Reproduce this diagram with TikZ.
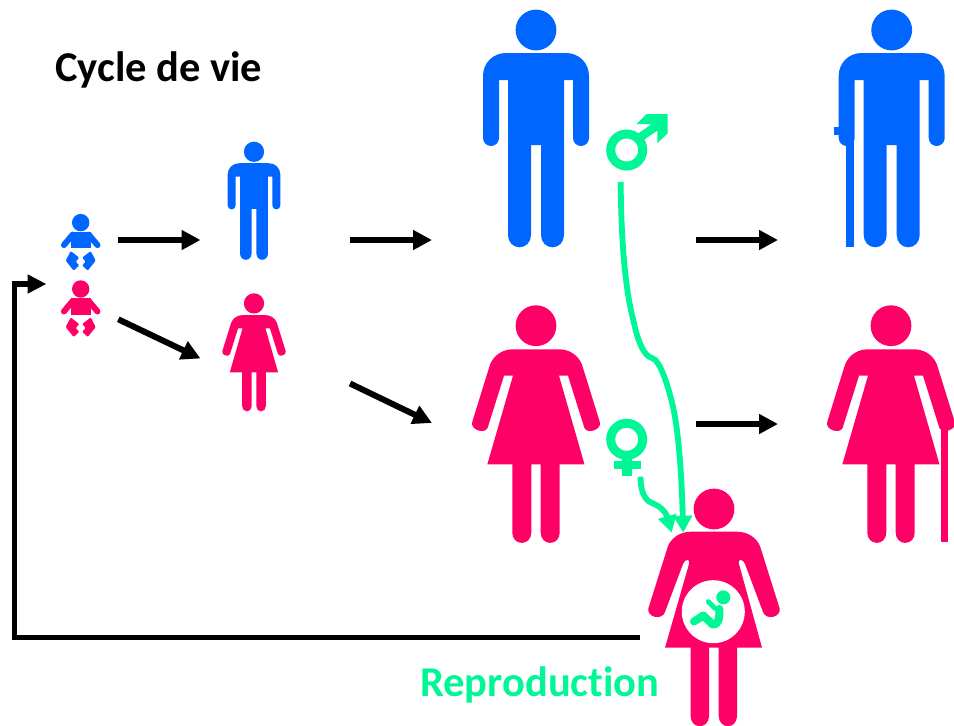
\documentclass[tikz,border=0pt]{standalone}
\usepackage{fontspec}
\setmainfont{Carlito}[Ligatures=NoCommon]
\usetikzlibrary{arrows.meta}
\definecolor{mblue}{HTML}{0066FF}
\definecolor{fpink}{HTML}{FF0066}
\definecolor{sgreen}{HTML}{00F796}
\tikzset{
  flow/.style={draw=black,line width=6pt,-{Triangle[length=19pt,width=19pt]}},
  elbow/.style={draw=black,line width=5.5pt,line join=miter,-{Triangle[length=19pt,width=18pt]}},
  gene/.style={draw=sgreen,line width=5.8pt,-{Triangle[length=17pt,width=18pt]}},
  lab/.style={font=\bfseries\fontsize{42.5}{42.5}\selectfont,inner sep=0pt,anchor=west},
  pics/manbody/.style={code={
    \fill[mblue] (0,0) circle[radius=20.4];
    \fill[mblue] (-37,50) -- (-37,108) .. controls (-37,112.4) and (-40.6,116) .. (-45,116)
      .. controls (-49.4,116) and (-53,112.4) .. (-53,108) -- (-53,46)
      .. controls (-53,33) and (-43,23) .. (-30,23) -- (30,23)
      .. controls (43,23) and (53,33) .. (53,46) -- (53,108)
      .. controls (53,112.4) and (49.4,116) .. (45,116)
      .. controls (40.6,116) and (37,112.4) .. (37,108) -- (37,50) -- (28,50) -- (28,205)
      .. controls (28,212) and (23,217.3) .. (16.5,217.3)
      .. controls (10,217.3) and (5,212) .. (5,205) -- (5,115) -- (-5,115) -- (-5,205)
      .. controls (-5,212) and (-10,217.3) .. (-16.5,217.3)
      .. controls (-23,217.3) and (-28,212) .. (-28,205) -- (-28,50) -- cycle;
  }},
  pics/womanbody/.style={code={
    \fill[fpink] (0,0) circle[radius=20.4];
    \fill[fpink] (-23,50) -- (-48.7,138.7) -- (-23.7,138.7) -- (-23.7,207)
      .. controls (-23.7,213) and (-19.5,217.2) .. (-14.2,217.2)
      .. controls (-9,217.2) and (-4.7,213) .. (-4.7,207) -- (-4.7,138.7) -- (4.7,138.7) -- (4.7,207)
      .. controls (4.7,213) and (9,217.2) .. (14.2,217.2)
      .. controls (19.5,217.2) and (23.7,213) .. (23.7,207) -- (23.7,138.7) -- (48.5,138.7)
      -- (23,50) -- (32,50) -- (48.3,102)
      .. controls (51,109) and (66.5,104) .. (63.7,96) -- (46,39)
      .. controls (42,29) and (33,23.6) .. (23,23.6) -- (-23,23.6)
      .. controls (-33,23.6) and (-42,29) .. (-46,39) -- (-63.7,96)
      .. controls (-66.5,104) and (-51,109) .. (-48.3,102) -- (-32,50) -- cycle;
  }},
  pics/pregnantbody/.style={code={
    \fill[fpink] (0,0) circle[radius=20.4];
    \fill[fpink] (-25,55) -- (-49,138.7) -- (-23.3,138.7) -- (-23.3,207)
      .. controls (-23.3,213) and (-19.5,217.2) .. (-14.2,217.2)
      .. controls (-9,217.2) and (-5,213) .. (-5,207) -- (-5,138.7) -- (4.7,138.7) -- (4.7,207)
      .. controls (4.7,213) and (9,217.2) .. (14,217.2)
      .. controls (19,217.2) and (23,213) .. (23,207) -- (23,138.7) -- (48,138.7)
      -- (25,55) .. controls (23.5,50) and (28,49) .. (31,55) -- (49,103)
      .. controls (52,112) and (68,108) .. (65.5,99) -- (46,37)
      .. controls (42,28) and (33,22.7) .. (23,22.7) -- (-23,22.7)
      .. controls (-33,22.7) and (-42,28) .. (-46,37) -- (-65.5,99)
      .. controls (-68,108) and (-52,112) .. (-49,103) -- (-31,55)
      .. controls (-28,49) and (-23.5,50) .. (-25,55) -- cycle;
  }},
  pics/babybody/.style={code={
    \fill[#1] (0,0) circle[radius=8.7];
    \fill[#1] (-10,9) rectangle (10,25.5);
    \draw[#1,line width=6pt,line cap=round] (-8,12) -- (-16.8,22.5);
    \draw[#1,line width=6pt,line cap=round] (8,12) -- (16.8,22.5);
    \fill[#1,rounded corners=1pt] (-10,28.5) -- (-1.5,35) -- (-5,39) -- (-1.5,42.8) -- (-7,48) -- (-15,38) -- cycle;
    \fill[#1,rounded corners=1pt] (10,28.5) -- (1.5,35) -- (5,39) -- (1.5,42.8) -- (7,48) -- (15,38) -- cycle;
  }}
}
\begin{document}
\begin{tikzpicture}[x=1pt,y=-1pt]
\useasboundingbox (0,0) rectangle (954,726);
\fill[white] (0,0) rectangle (954,726);
% title
\node[lab,text=black] (title) at (55,70) {Cycle de vie};
% babies
\pic (babym) at (80.7,222.6) {babybody=mblue};
\pic (babyf) at (80.7,289) {babybody=fpink};
% young
\pic[scale=0.497] (youngm) at (254,151.8) {manbody};
\pic[scale=0.497] (youngf) at (254,303.4) {womanbody};
% adults
\pic (adultm) at (536,30) {manbody};
\pic (adultf) at (536,325.7) {womanbody};
% elders
\pic (oldm) at (891.7,30) {manbody};
\fill[mblue] (846,135) rectangle (854,246.7);
\fill[mblue] (834,127) rectangle (840,134.5);
\pic (oldf) at (891,325.7) {womanbody};
\fill[fpink] (940.7,428) rectangle (948.3,541.7);
% pregnant
\pic (preg) at (714,509) {pregnantbody};
\node[circle,fill=white,minimum size=63pt,inner sep=0pt] (belly) at (713.3,611.7) {};
\fill[sgreen] (723.3,597.3) circle[radius=7];
\draw[sgreen,line width=5pt,line cap=round] (708.3,601.7) -- (715,608.3);
\draw[sgreen,line width=8pt,line cap=round,line join=round]
  (719.3,609) .. controls (720,618) and (718,626) .. (712.5,624.5) -- (703.3,615.5) -- (694,621.5);
% sex symbols
\node[circle,draw=sgreen,line width=9pt,minimum size=32pt,inner sep=0pt] (marsring) at (626.7,150) {};
\coordinate (marsend) at (655,127);
\draw[sgreen,line width=8.5pt] (marsring) ++(11,-11) -- (marsend);
\fill[sgreen] (667.7,114) -- (646.7,114) -- (636.7,124) -- (650,124) -- (657.3,131) -- (657.3,143.3) -- (667.7,133.3) -- cycle;
\node[circle,draw=sgreen,line width=9pt,minimum size=32pt,inner sep=0pt] (venusring) at (626.7,439.3) {};
\fill[sgreen] (622.2,455) rectangle (631.7,476);
\fill[sgreen] (614,461) rectangle (640.7,469);
% black arrows
\coordinate (a1s) at (118.3,240); \coordinate (a1e) at (200.5,240);
\coordinate (a2s) at (350,240);   \coordinate (a2e) at (432,240);
\coordinate (a3s) at (696,240);   \coordinate (a3e) at (778,240);
\coordinate (b1s) at (118.3,319.3); \coordinate (b1e) at (200.5,358.5);
\coordinate (b2s) at (350,383.5);   \coordinate (b2e) at (432,423);
\coordinate (b3s) at (696,424);   \coordinate (b3e) at (778,424);
\draw[flow] (a1s) -- (a1e);
\draw[flow] (a2s) -- (a2e);
\draw[flow] (a3s) -- (a3e);
\draw[flow] (b1s) -- (b1e);
\draw[flow] (b2s) -- (b2e);
\draw[flow] (b3s) -- (b3e);
% feedback
\coordinate (fbs) at (640,637.5); \coordinate (fbc1) at (14.5,637.5);
\coordinate (fbc2) at (14.5,284); \coordinate (fbe) at (46.5,284);
\draw[elbow] (fbs) -- (fbc1) -- (fbc2) -- (fbe);
% green arrows
\coordinate (g1s) at (620.7,182); \coordinate (g1e) at (683.3,532.7);
\draw[gene] (g1s) .. controls (621,230) and (624,285) .. (633.3,320)
  .. controls (637,338) and (643,356) .. (652,358)
  .. controls (660,360) and (668,385) .. (673.3,408)
  .. controls (680,440) and (682,490) .. (g1e);
\coordinate (g2s) at (640.5,476.7); \coordinate (g2e) at (671.7,532.7);
\draw[gene] (g2s) .. controls (640.5,490) and (644,500) .. (652,503)
  .. controls (660,506) and (666,512) .. (g2e);
% label
\node[lab,text=sgreen] (repro) at (420,685) {Reproduction};
\end{tikzpicture}
\end{document}
